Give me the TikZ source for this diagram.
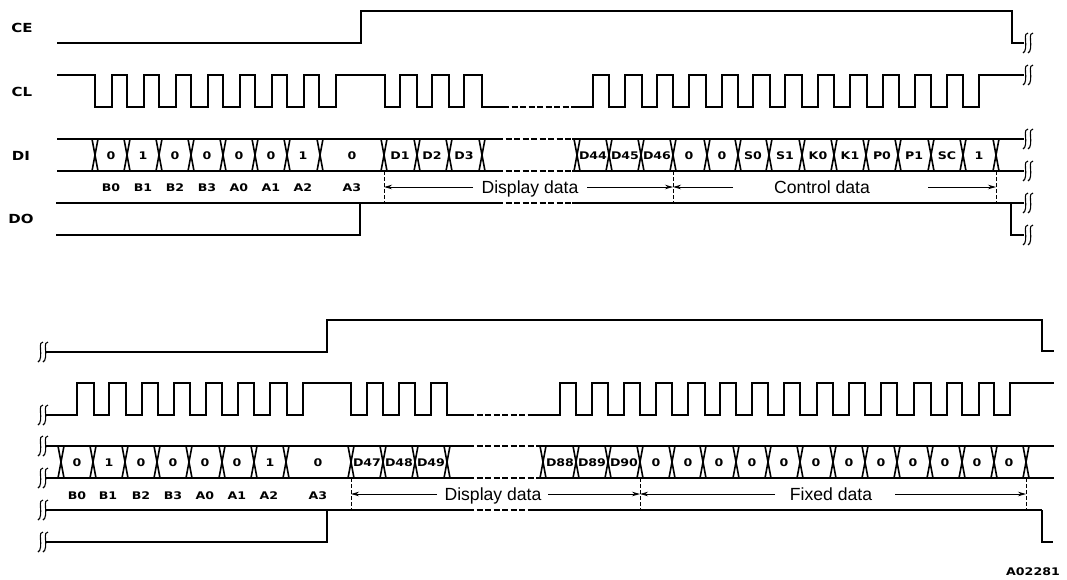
\documentclass[tikz,border=0pt]{standalone}
\usepackage{fontspec}
\usetikzlibrary{arrows.meta}
\newfontfamily\dimfont{Liberation Sans}
\newfontfamily\sigfont[FakeStretch=1.2]{DejaVu Sans}
\tikzset{
  wave/.style={line width=1.5pt, line join=miter},
  gapwave/.style={line width=1.5pt, dash pattern=on 6pt off 2.5pt},
  guide/.style={line width=0.9pt, dash pattern=on 4pt off 2pt},
  dimline/.style={line width=0.9pt, -{Stealth[length=8pt,width=4.5pt]}},
  signame/.style={inner sep=0pt, font=\sigfont\bfseries\fontsize{12.5}{13}\selectfont},
  cell/.style={inner sep=0pt, font=\sigfont\bfseries\fontsize{10.5}{11}\selectfont},
  dimtext/.style={inner sep=0pt, anchor=base, font=\dimfont\fontsize{17.6}{18}\selectfont},
  xing/.pic={\draw[line width=1.6pt] (-3,-16) -- (3,16) (3,-16) -- (-3,16);},
  brk/.pic={\draw[line width=1.1pt]
    (0,-10) .. controls (-2,-10.5) and (-3,-8) .. (-2.5,-3) .. controls (-2,2) and (-2,9) .. (-5,10)
    (5,-10) .. controls (3,-10.5) and (2,-8) .. (2.5,-3) .. controls (3,2) and (3,9) .. (0,10);}
}
\begin{document}
\begin{tikzpicture}[x=1pt, y=-1pt]
  \useasboundingbox (0,0) rectangle (1067,579);

  % Signal names
  \node[signame] (ce) at (22,28) {CE};
  \node[signame] (cl) at (22,92) {CL};
  \node[signame] (di) at (21,156) {DI};
  \node[signame] (do) at (21,219) {DO};

  % Upper waveforms
  \draw[wave] (57,43) -- (361,43) -- (361,11) -- (1012,11) -- (1012,43) -- (1024,43);
  \draw[wave] (57,75) -- (95,75) -- (95,107) -- (112,107) -- (112,75) -- (127,75) -- (127,107) -- (144,107) -- (144,75)
    -- (159,75) -- (159,107) -- (176,107) -- (176,75) -- (191,75) -- (191,107) -- (208,107) -- (208,75)
    -- (223,75) -- (223,107) -- (240,107) -- (240,75) -- (255,75) -- (255,107) -- (272,107) -- (272,75)
    -- (287,75) -- (287,107) -- (304,107) -- (304,75) -- (319,75) -- (319,107) -- (336,107) -- (336,75)
    -- (385,75) -- (385,107) -- (400,107) -- (400,75) -- (417,75) -- (417,107) -- (432,107) -- (432,75)
    -- (449,75) -- (449,107) -- (464,107) -- (464,75) -- (482,75) -- (482,107) -- (503,107);
  \draw[gapwave] (503,107) -- (572,107);
  \draw[wave] (572,107) -- (593,107) -- (593,75) -- (609,75) -- (609,107) -- (625,107) -- (625,75)
    -- (642,75) -- (642,107) -- (657,107) -- (657,75) -- (673,75) -- (673,107) -- (689,107) -- (689,75)
    -- (706,75) -- (706,107) -- (722,107) -- (722,75) -- (738,75) -- (738,107) -- (753,107) -- (753,75)
    -- (770,75) -- (770,107) -- (785,107) -- (785,75) -- (802,75) -- (802,107) -- (818,107) -- (818,75)
    -- (834,75) -- (834,107) -- (850,107) -- (850,75) -- (867,75) -- (867,107) -- (883,107) -- (883,75)
    -- (899,75) -- (899,107) -- (915,107) -- (915,75) -- (931,75) -- (931,107) -- (947,107) -- (947,75)
    -- (963,75) -- (963,107) -- (979,107) -- (979,75) -- (1024,75);
  \draw[wave] (57,139) -- (497,139) (572,139) -- (1024,139);
  \draw[wave] (57,171) -- (497,171) (572,171) -- (1024,171);
  \draw[gapwave] (497,139) -- (572,139);
  \draw[gapwave] (497,171) -- (572,171);
  \draw[wave] (56,203) -- (497,203) (572,203) -- (1011,203) -- (1024,203);
  \draw[gapwave] (497,203) -- (572,203);
  \draw[wave] (56,235) -- (360,235) -- (360,203);
  \draw[wave] (1011,203) -- (1011,235) -- (1024,235);

  % Upper crossings
  \pic at (95,155) {xing}; \pic at (127,155) {xing}; \pic at (159,155) {xing}; \pic at (191,155) {xing};
  \pic at (223,155) {xing}; \pic at (255,155) {xing}; \pic at (287,155) {xing}; \pic at (320,155) {xing};
  \pic at (384,155) {xing}; \pic at (417,155) {xing}; \pic at (449,155) {xing}; \pic at (482,155) {xing};
  \pic at (577,155) {xing}; \pic at (609,155) {xing}; \pic at (641,155) {xing}; \pic at (673,155) {xing};
  \pic at (707,155) {xing}; \pic at (738,155) {xing}; \pic at (769,155) {xing}; \pic at (802,155) {xing};
  \pic at (834,155) {xing}; \pic at (866,155) {xing}; \pic at (898,155) {xing}; \pic at (931,155) {xing};
  \pic at (963,155) {xing}; \pic at (996,155) {xing};

  % Upper breaks
  \pic at (1028,43) {brk}; \pic at (1028,75) {brk}; \pic at (1028,139) {brk};
  \pic at (1028,171) {brk}; \pic at (1028,203) {brk}; \pic at (1028,235) {brk};

  % Upper cell values
  \node[cell] (ua) at (111,156) {0};
  \node[cell] (ub) at (143,156) {1};
  \node[cell] (uc) at (175,156) {0};
  \node[cell] (ud) at (207,156) {0};
  \node[cell] (ue) at (239,156) {0};
  \node[cell] (uf) at (271,156) {0};
  \node[cell] (ug) at (303,156) {1};
  \node[cell] (uh) at (352,156) {0};
  \node[cell] (ud1) at (400,156) {D1};
  \node[cell] (ud2) at (432,156) {D2};
  \node[cell] (ud3) at (464,156) {D3};
  \node[cell] (ud44) at (593,156) {D44};
  \node[cell] (ud45) at (625,156) {D45};
  \node[cell] (ud46) at (657,156) {D46};
  \node[cell] (ui) at (689,156) {0};
  \node[cell] (uj) at (722,156) {0};
  \node[cell] (us0) at (753,156) {S0};
  \node[cell] (us1) at (785,156) {S1};
  \node[cell] (uk0) at (818,156) {K0};
  \node[cell] (uk1) at (850,156) {K1};
  \node[cell] (up0) at (882,156) {P0};
  \node[cell] (up1) at (914,156) {P1};
  \node[cell] (usc) at (947,156) {SC};
  \node[cell] (uk) at (979,156) {1};

  % Upper bit names
  \node[cell] (ub0) at (111,188) {B0};
  \node[cell] (ub1) at (143,188) {B1};
  \node[cell] (ub2) at (175,188) {B2};
  \node[cell] (ub3) at (207,188) {B3};
  \node[cell] (ua0) at (239,188) {A0};
  \node[cell] (ua1) at (271,188) {A1};
  \node[cell] (ua2) at (303,188) {A2};
  \node[cell] (ua3) at (352,188) {A3};

  % Upper spans
  \node[dimtext] (udisp) at (530,193) {Display data};
  \node[dimtext] (uctrl) at (822,193) {Control data};
  \coordinate (ug1t) at (384,171);
  \coordinate (ug1b) at (384,203);
  \coordinate (ug2t) at (673,171);
  \coordinate (ug2b) at (673,203);
  \coordinate (ug3t) at (996,171);
  \coordinate (ug3b) at (996,203);
  \coordinate (ug1m) at (384,187);
  \coordinate (ug2m) at (673,187);
  \coordinate (ug3m) at (996,187);
  \coordinate (us1e) at (473,187);
  \coordinate (us1f) at (587,187);
  \coordinate (us2e) at (733,187);
  \coordinate (us2f) at (928,187);
  \draw[guide] (ug1t) -- (ug1b);
  \draw[guide] (ug2t) -- (ug2b);
  \draw[guide] (ug3t) -- (ug3b);
  \draw[dimline] (us1e) -- (ug1m);
  \draw[dimline] (us1f) -- (ug2m);
  \draw[dimline] (us2e) -- (ug2m);
  \draw[dimline] (us2f) -- (ug3m);

  % Lower waveforms
  \draw[wave] (45,352) -- (327,352) -- (327,320) -- (1042,320) -- (1042,351) -- (1054,351);
  \draw[wave] (45,415) -- (77,415) -- (77,383) -- (94,383) -- (94,415) -- (109,415) -- (109,383) -- (126,383) -- (126,415)
    -- (142,415) -- (142,383) -- (158,383) -- (158,415) -- (174,415) -- (174,383) -- (190,383) -- (190,415)
    -- (206,415) -- (206,383) -- (222,383) -- (222,415) -- (238,415) -- (238,383) -- (254,383) -- (254,415)
    -- (270,415) -- (270,383) -- (287,383) -- (287,415) -- (303,415) -- (303,383) -- (351,383) -- (351,415)
    -- (367,415) -- (367,383) -- (383,383) -- (383,415) -- (399,415) -- (399,383) -- (415,383) -- (415,415)
    -- (431,415) -- (431,383) -- (447,383) -- (447,415) -- (468,415);
  \draw[gapwave] (468,415) -- (532,415);
  \draw[wave] (532,415) -- (560,415) -- (560,383) -- (576,383) -- (576,415) -- (592,415) -- (592,383)
    -- (608,383) -- (608,415) -- (624,415) -- (624,383) -- (640,383) -- (640,415) -- (656,415) -- (656,383)
    -- (672,383) -- (672,415) -- (688,415) -- (688,383) -- (705,383) -- (705,415) -- (720,415) -- (720,383)
    -- (736,383) -- (736,415) -- (752,415) -- (752,383) -- (768,383) -- (768,415) -- (784,415) -- (784,383)
    -- (800,383) -- (800,415) -- (817,415) -- (817,383) -- (833,383) -- (833,415) -- (849,415) -- (849,383)
    -- (865,383) -- (865,415) -- (881,415) -- (881,383) -- (897,383) -- (897,415) -- (914,415) -- (914,383)
    -- (931,383) -- (931,415) -- (947,415) -- (947,383) -- (962,383) -- (962,415) -- (979,415) -- (979,383)
    -- (994,383) -- (994,415) -- (1010,415) -- (1010,383) -- (1054,383);
  \draw[wave] (45,446) -- (468,446) (540,446) -- (1054,446);
  \draw[wave] (45,478) -- (468,478) (540,478) -- (1054,478);
  \draw[gapwave] (468,446) -- (540,446);
  \draw[gapwave] (468,478) -- (540,478);
  \draw[wave] (45,510) -- (468,510) (530,510) -- (1042,510);
  \draw[gapwave] (468,510) -- (530,510);
  \draw[wave] (45,542) -- (327,542) -- (327,510);
  \draw[wave] (1042,510) -- (1042,542) -- (1053,542);

  % Lower crossings
  \pic at (61,462) {xing}; \pic at (93,462) {xing}; \pic at (125,462) {xing}; \pic at (157,462) {xing};
  \pic at (189,462) {xing}; \pic at (222,462) {xing}; \pic at (254,462) {xing}; \pic at (286,462) {xing};
  \pic at (351,462) {xing}; \pic at (383,462) {xing}; \pic at (415,462) {xing}; \pic at (447,462) {xing};
  \pic at (543,462) {xing}; \pic at (576,462) {xing}; \pic at (608,462) {xing}; \pic at (640,462) {xing};
  \pic at (672,462) {xing}; \pic at (703,462) {xing}; \pic at (736,462) {xing}; \pic at (768,462) {xing};
  \pic at (800,462) {xing}; \pic at (833,462) {xing}; \pic at (865,462) {xing}; \pic at (897,462) {xing};
  \pic at (930,462) {xing}; \pic at (962,462) {xing}; \pic at (994,462) {xing}; \pic at (1026,462) {xing};

  % Lower breaks
  \pic at (43,352) {brk}; \pic at (43,415) {brk}; \pic at (43,446) {brk};
  \pic at (43,478) {brk}; \pic at (43,510) {brk}; \pic at (43,542) {brk};

  % Lower cell values
  \node[cell] (la) at (77,463) {0};
  \node[cell] (lb) at (109,463) {1};
  \node[cell] (lc) at (141,463) {0};
  \node[cell] (ld) at (173,463) {0};
  \node[cell] (le) at (205,463) {0};
  \node[cell] (lf) at (237,463) {0};
  \node[cell] (lg) at (270,463) {1};
  \node[cell] (lh) at (318,463) {0};
  \node[cell] (ld47) at (367,463) {D47};
  \node[cell] (ld48) at (399,463) {D48};
  \node[cell] (ld49) at (431,463) {D49};
  \node[cell] (ld88) at (560,463) {D88};
  \node[cell] (ld89) at (592,463) {D89};
  \node[cell] (ld90) at (624,463) {D90};
  \node[cell] (li) at (656,463) {0};
  \node[cell] (lj) at (688,463) {0};
  \node[cell] (lk) at (719,463) {0};
  \node[cell] (ll) at (752,463) {0};
  \node[cell] (lm) at (784,463) {0};
  \node[cell] (ln) at (816,463) {0};
  \node[cell] (lo) at (849,463) {0};
  \node[cell] (lp) at (881,463) {0};
  \node[cell] (lq) at (913,463) {0};
  \node[cell] (lr) at (945,463) {0};
  \node[cell] (ls) at (977,463) {0};
  \node[cell] (lt) at (1009,463) {0};

  % Lower bit names
  \node[cell] (lb0) at (77,496) {B0};
  \node[cell] (lb1) at (108,496) {B1};
  \node[cell] (lb2) at (141,496) {B2};
  \node[cell] (lb3) at (173,496) {B3};
  \node[cell] (la0) at (205,496) {A0};
  \node[cell] (la1) at (237,496) {A1};
  \node[cell] (la2) at (269,496) {A2};
  \node[cell] (la3) at (318,496) {A3};

  % Lower spans
  \node[dimtext] (ldisp) at (493,500) {Display data};
  \node[dimtext] (lfixd) at (831,500) {Fixed data};
  \coordinate (lg1t) at (351,478);
  \coordinate (lg1b) at (351,510);
  \coordinate (lg2t) at (640,478);
  \coordinate (lg2b) at (640,510);
  \coordinate (lg3t) at (1026,478);
  \coordinate (lg3b) at (1026,510);
  \coordinate (lg1m) at (351,494);
  \coordinate (lg2m) at (640,494);
  \coordinate (lg3m) at (1026,494);
  \coordinate (ls1e) at (437,494);
  \coordinate (ls1f) at (548,494);
  \coordinate (ls2e) at (775,494);
  \coordinate (ls2f) at (895,494);
  \draw[guide] (lg1t) -- (lg1b);
  \draw[guide] (lg2t) -- (lg2b);
  \draw[guide] (lg3t) -- (lg3b);
  \draw[dimline] (ls1e) -- (lg1m);
  \draw[dimline] (ls1f) -- (lg2m);
  \draw[dimline] (ls2e) -- (lg2m);
  \draw[dimline] (ls2f) -- (lg3m);

  % Drawing number
  \node[cell] (dwgno) at (1033,572) {A02281};
\end{tikzpicture}
\end{document}
